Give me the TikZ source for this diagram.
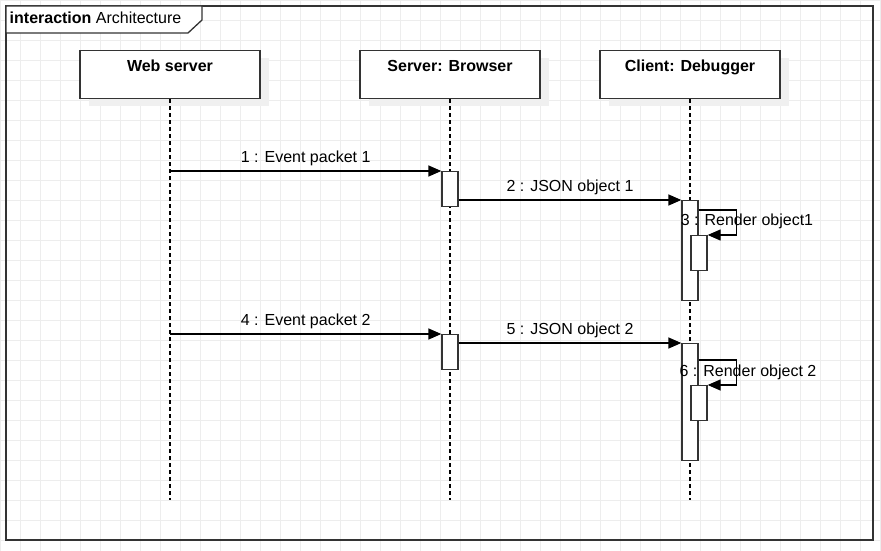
\documentclass[tikz,border=0pt]{standalone}
\usepackage{fontspec}
\setmainfont{Liberation Sans}
\usetikzlibrary{arrows.meta}

\newcommand\diagfont{\fontsize{16}{19}\selectfont}
\tikzset{
  gridline/.style={gray!14,line width=0.8pt},
  frame/.style={black!80,line width=1.3pt},
  lifebox/.style={draw=black!80,fill=white,line width=1.3pt,minimum width=180pt,
    inner ysep=0pt,text height=21pt,text depth=27pt,font=\diagfont\bfseries},
  lifeline/.style={black,line width=1.1pt,dash pattern=on 4pt off 3pt},
  actbox/.style={draw=black!80,fill=white,line width=1.3pt,minimum width=16pt,
    anchor=north,inner sep=0pt},
  msg/.style={line width=1.3pt,-{Triangle[length=13pt,width=11pt]}},
  msglabel/.style={midway,anchor=base,inner sep=0pt,yshift=8.5pt}
}

\begin{document}
\begin{tikzpicture}[x=1pt,y=-1pt,font=\diagfont]
  \useasboundingbox (0,0) rectangle (881,551);
  \fill[white] (0,0) rectangle (881,551);
  \foreach \g in {0,20,...,880}
    \draw[gridline] (\g,0)--(\g,551);
  \foreach \g in {0,20,...,540}
    \draw[gridline] (0,\g)--(881,\g);
  \draw[frame] (6,6) rectangle (873,540);
  \draw[frame,fill=white] (6,6)--(202,6)--(202,20)--(188,33)--(6,33)--cycle;
  \node[anchor=base west,inner sep=0pt] (title) at (9.5,23.5) {\textbf{interaction} Architecture};
  \foreach \name/\cx/\txt in {web/170/Web server,browser/450/Server: Browser,debugger/690/Client: Debugger} {
    \fill[gray!12] (\cx-81,58) rectangle (\cx+99,106);
    \node[lifebox,anchor=north] (\name) at (\cx,50) {\txt};
    \coordinate (\name-end) at (\cx,500);
    \draw[lifeline] (\name) -- (\name-end);
  }
  \node[actbox,minimum height=35pt] (browserA) at (450,171) {};
  \node[actbox,minimum height=100pt] (debuggerA) at (690,200) {};
  \node[actbox,minimum height=35pt] (renderA) at (699,235) {};
  \node[actbox,minimum height=35pt] (browserB) at (450,334) {};
  \node[actbox,minimum height=117pt] (debuggerB) at (690,343) {};
  \node[actbox,minimum height=35pt] (renderB) at (699,385) {};
  \coordinate (webA) at (170,171);
  \coordinate (webB) at (170,334);
  \draw[msg] (webA) -- node[msglabel] {1 : Event packet 1} (browserA.north west);
  \draw[msg] (browserA.east |- debuggerA.north) -- node[msglabel] {2 : JSON object 1} (debuggerA.north west);
  \draw[msg] (debuggerA.north east) ++(0,10) -- ++(38,0) |- (renderA.north east);
  \node[anchor=base,inner sep=0pt] (renderlabelA) at (747,225) {3 : Render object1};
  \draw[msg] (webB) -- node[msglabel] {4 : Event packet 2} (browserB.north west);
  \draw[msg] (browserB.east |- debuggerB.north) -- node[msglabel] {5 : JSON object 2} (debuggerB.north west);
  \draw[msg] (debuggerB.north east) ++(0,17) -- ++(38,0) |- (renderB.north east);
  \node[anchor=base,inner sep=0pt] (renderlabelB) at (748,376) {6 : Render object 2};
\end{tikzpicture}
\end{document}
